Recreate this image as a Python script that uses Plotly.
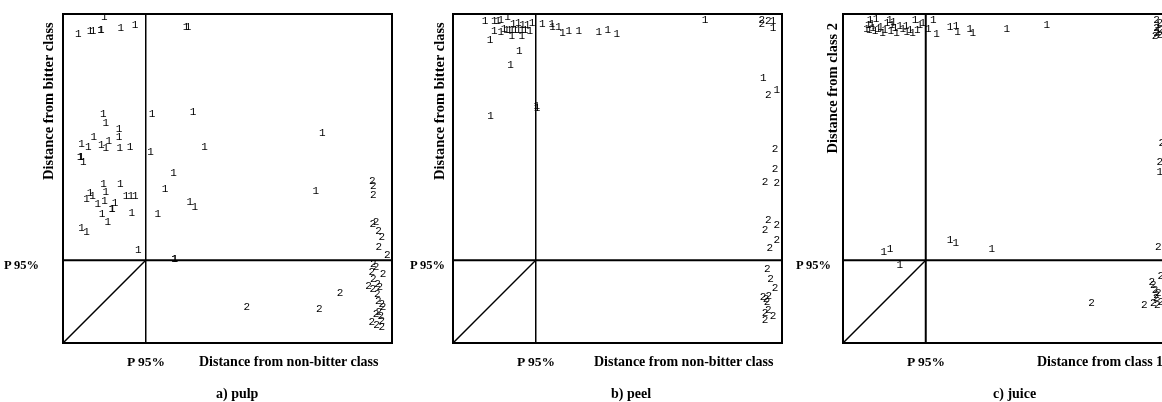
import plotly.graph_objects as go

W, H = 1162, 402

# ---------------- data (distance units; P95 threshold = 25 on both axes) ----------------
P95 = 25

# a) pulp
pulp_c1_x = [12.3, 4.4, 8.0, 8.9, 11.2, 11.4, 17.4, 21.7, 37.3, 37.9,
             12.0, 12.8, 16.8, 16.8, 9.1, 5.4, 7.4, 11.4, 13.7, 12.8, 17.1, 20.2, 4.9, 5.2, 5.9,
             26.9, 39.5, 26.5, 43.0, 33.5, 30.9, 38.5, 40.0, 28.7, 33.9, 33.8, 79.0, 77.0,
             12.1, 12.8, 17.2, 8.0, 8.7, 6.9, 10.3, 12.4, 15.6, 14.6, 14.8, 19.0, 20.4, 21.8,
             20.7, 11.6, 13.4, 5.4, 6.9, 22.7]
pulp_c1_y = [99.3, 94.2, 94.9, 94.9, 95.4, 95.4, 95.9, 96.9, 96.4, 96.4,
             69.8, 67.0, 65.2, 62.5, 62.5, 60.4, 59.6, 60.1, 61.3, 59.1, 59.3, 59.5, 56.4, 56.4, 55.0,
             69.6, 70.2, 58.1, 59.6, 51.7, 46.6, 42.7, 41.2, 39.0, 25.4, 25.4, 63.7, 46.0,
             48.2, 45.8, 48.2, 45.5, 44.5, 43.8, 42.2, 43.0, 42.5, 40.5, 40.5, 44.7, 44.7, 44.7,
             39.5, 39.0, 36.6, 34.9, 33.5, 28.1]
pulp_c2_x = [94.3, 94.6, 94.6, 95.4, 94.4, 96.2, 97.2, 96.3, 98.9,
             94.6, 95.4, 97.6, 94.1, 94.6, 95.9, 93.1, 94.4, 96.6, 95.8, 96.1, 97.2, 97.6,
             96.3, 95.4, 96.9, 94.1, 95.6, 97.2, 97.2, 84.4, 78.1, 55.9]
pulp_c2_y = [49.1, 47.6, 44.8, 36.6, 35.9, 34.0, 32.0, 28.9, 26.4,
             23.8, 22.8, 20.8, 21.3, 19.2, 17.7, 16.9, 16.2, 16.7, 14.6, 12.6, 11.5, 10.5,
             9.0, 8.5, 8.0, 5.9, 5.2, 6.4, 4.4, 14.9, 10.0, 10.5]

# b) peel
peel_c1_x = [9.5, 12.3, 13.4, 14.3, 16.4, 18.1, 19.7, 21.0, 22.4, 23.9,
             12.3, 14.3, 15.3, 16.1, 16.9, 17.7, 18.7, 19.7, 20.7, 21.7, 17.7, 20.7, 23.2,
             11.0, 20.0, 17.3, 11.2, 25.3, 25.4,
             27.0, 29.9, 30.1, 32.0, 33.2, 35.1, 38.2, 44.3, 47.0, 49.8, 76.8,
             97.6, 97.6, 94.6, 98.7]
peel_c1_y = [98.0, 98.2, 98.2, 98.5, 99.3, 97.2, 97.5, 96.9, 96.9, 97.6,
             95.1, 94.6, 95.7, 95.4, 95.4, 95.4, 95.2, 95.2, 95.2, 95.2, 93.6, 93.6, 94.9,
             92.4, 88.8, 84.7, 69.1, 72.0, 71.6,
             97.2, 97.2, 96.2, 96.4, 94.4, 94.9, 94.9, 94.6, 95.4, 94.2, 98.5,
             98.0, 95.9, 80.6, 77.1]
peel_c2_x = [94.1, 94.1, 96.1, 96.1, 98.2, 98.2, 95.1, 98.7, 96.1, 95.1, 98.7, 96.6, 98.7,
             95.8, 96.8, 98.2, 94.5, 95.4, 96.3, 95.7, 95.1, 96.1, 97.6, 95.1]
peel_c2_y = [98.5, 97.2, 98.0, 75.5, 58.9, 52.8, 49.0, 48.5, 37.3, 34.3, 35.8, 28.7, 31.2,
             22.2, 19.2, 16.4, 13.8, 13.1, 14.1, 12.2, 8.8, 9.8, 8.0, 6.7]

# c) juice
juice_c1_x = [8.0, 9.8, 7.4, 8.5, 6.9, 7.7, 8.8, 9.5, 10.5, 11.2, 11.8, 12.5, 13.2, 13.9,
              14.6, 15.1, 14.3, 15.6, 16.1, 17.1, 18.0, 19.0, 19.2, 20.2, 21.0, 21.7, 22.4,
              23.2, 24.1, 25.8, 27.3, 28.3, 32.4, 34.3, 34.7, 38.5, 39.4, 49.8, 62.0,
              12.2, 14.1, 17.1, 32.4, 34.2, 45.2, 96.6, 96.0, 96.0]
juice_c1_y = [98.5, 98.7, 96.9, 97.2, 95.6, 95.2, 95.9, 94.9, 95.6, 96.4, 94.4, 95.4, 97.6, 98.3,
              96.9, 97.9, 94.9, 95.9, 94.4, 96.6, 95.6, 96.6, 94.6, 95.2, 94.4, 98.3, 95.2,
              96.9, 97.5, 95.6, 98.5, 94.2, 96.2, 96.6, 94.8, 95.6, 94.4, 95.6, 96.9,
              27.6, 28.3, 23.5, 31.0, 30.2, 28.3, 51.8, 96.9, 94.8]
juice_c2_x = [95.6, 96.6, 95.6, 96.9, 95.6, 96.6, 95.1, 97.2, 96.6, 96.1, 75.7, 91.8,
              96.9, 94.1, 94.6, 95.1, 95.6, 96.1, 95.4, 94.6, 95.8, 96.9]
juice_c2_y = [98.5, 97.5, 96.0, 95.4, 94.4, 93.9, 93.4, 60.8, 55.1, 29.1, 12.0, 11.3,
              20.0, 18.4, 17.4, 15.9, 14.4, 14.9, 13.4, 12.0, 11.3, 12.2]

panels = [
    dict(c1=(pulp_c1_x, pulp_c1_y), c2=(pulp_c2_x, pulp_c2_y),
         ytitle="Distance from bitter class", xtitle="Distance from non-bitter class",
         caption="a) pulp"),
    dict(c1=(peel_c1_x, peel_c1_y), c2=(peel_c2_x, peel_c2_y),
         ytitle="Distance from bitter class", xtitle="Distance from non-bitter class",
         caption="b) peel"),
    dict(c1=(juice_c1_x, juice_c1_y), c2=(juice_c2_x, juice_c2_y),
         ytitle="Distance from class 2", xtitle="Distance from class 1",
         caption="c) juice"),
]

# ---------------- layout geometry (pixels) ----------------
box_left = [64, 454, 844]
box_w = 327
box_top, box_bot = 15, 342
ytitle_x = [48, 439, 831]
p95_left_right = [41, 447, 833]
xtitle_left = [197, 592, 1035]
caption_x = [237, 631, 1014]


def px(x):
    return x / W


def py(y):
    return 1 - y / H


serif = "Liberation Serif, Times New Roman, serif"
fig = go.Figure()
layout = dict(width=W, height=H, margin=dict(l=0, r=0, t=0, b=0),
              paper_bgcolor="white", plot_bgcolor="white", showlegend=False)
annotations = []
shapes = []

for i, p in enumerate(panels):
    n = "" if i == 0 else str(i + 1)
    xa, ya = "x" + n, "y" + n
    d0 = px(box_left[i])
    d1 = min(1.0, px(box_left[i] + box_w))
    xmax = 100 * (min(W, box_left[i] + box_w) - box_left[i]) / box_w
    last = (box_left[i] + box_w) > W
    layout["xaxis" + n] = dict(domain=[d0, d1], range=[0, xmax], showgrid=False, zeroline=False,
                               showticklabels=False, ticks="", showline=True, linecolor="black",
                               linewidth=2, mirror=True, anchor=ya, fixedrange=True)
    layout["yaxis" + n] = dict(domain=[py(box_bot), py(box_top)], range=[0, 100], showgrid=False,
                               zeroline=False, showticklabels=False, ticks="", showline=True,
                               linecolor="black", linewidth=2, mirror=(not last), anchor=xa,
                               fixedrange=True)
    for cls, lab in (("c1", "1"), ("c2", "2")):
        xs, ys = p[cls]
        fig.add_trace(go.Scatter(x=xs, y=ys, mode="text", text=[lab] * len(xs),
                                 textposition="middle center", cliponaxis=False,
                                 textfont=dict(family="Liberation Mono, monospace", size=11,
                                               color="black"),
                                 xaxis=xa, yaxis=ya, hoverinfo="skip"))
    # P95 threshold lines and diagonal
    shapes.append(dict(type="line", xref=xa, yref=ya, x0=P95, x1=P95, y0=0, y1=100,
                       line=dict(color="black", width=1.5 if i < 2 else 2)))
    shapes.append(dict(type="line", xref=xa, yref=ya, x0=0, x1=xmax, y0=P95, y1=P95,
                       line=dict(color="black", width=2)))
    shapes.append(dict(type="line", xref=xa, yref=ya, x0=0, x1=P95, y0=0, y1=P95,
                       line=dict(color="black", width=1.5)))
    # texts
    annotations.append(dict(text="<b>" + p["ytitle"] + "</b>", textangle=-90, xref="paper",
                            yref="paper", x=px(ytitle_x[i]), y=py(20), xanchor="center",
                            yanchor="top", showarrow=False,
                            font=dict(family=serif, size=14.5, color="black")))
    annotations.append(dict(text="<b>P 95%</b>", xref="paper", yref="paper",
                            x=px(p95_left_right[i]), y=py(265), xanchor="right", yanchor="middle",
                            showarrow=False, font=dict(family=serif, size=12.5, color="black")))
    annotations.append(dict(text="<b>P 95%</b>", xref=xa, yref="paper", x=P95, y=py(361),
                            xanchor="center", yanchor="middle", showarrow=False,
                            font=dict(family=serif, size=13.5, color="black")))
    annotations.append(dict(text="<b>" + p["xtitle"] + "</b>", xref="paper", yref="paper",
                            x=px(xtitle_left[i]), y=py(361), xanchor="left", yanchor="middle",
                            showarrow=False, font=dict(family=serif, size=14, color="black")))
    annotations.append(dict(text="<b>" + p["caption"] + "</b>", xref="paper", yref="paper",
                            x=px(caption_x[i]), y=py(394), xanchor="center", yanchor="middle",
                            showarrow=False, font=dict(family=serif, size=14, color="black")))

layout["annotations"] = annotations
layout["shapes"] = shapes
fig.update_layout(**layout)
fig.write_html(
    "out.html", config={"displayModeBar": False, "staticPlot": True},
    post_script=("document.body.style.margin='0';document.body.style.overflow='hidden';"
                 "var st=document.createElement('style');"
                 "st.textContent='svg.main-svg{will-change:transform;}';"
                 "document.head.appendChild(st);"))
